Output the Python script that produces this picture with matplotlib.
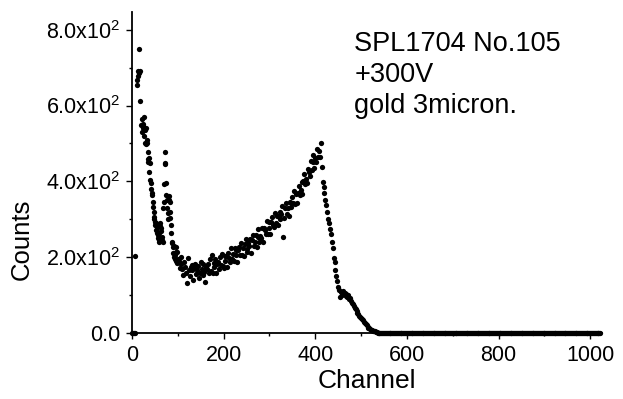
import numpy as np
import matplotlib.pyplot as plt
from matplotlib.ticker import MultipleLocator, FuncFormatter

# spectrum (channel, counts)
low_channels = [0, 2, 4, 6, 7, 11, 12, 13, 14, 15, 16, 17, 18,
                20, 21, 22, 23, 24, 25, 26, 27, 28, 29, 30, 31, 32, 33, 34, 35, 36, 37, 38, 39,
                40, 41, 42, 43, 44, 45, 46, 47, 48, 49, 50, 51, 52, 53, 54, 55, 56, 57, 58, 59,
                60, 61, 62, 63, 64, 65, 66, 67, 68, 69, 70, 71, 72, 73, 74, 75, 76, 77, 78, 79,
                80, 81, 82, 83, 84, 85, 86, 87, 88, 89, 90, 91, 92, 93, 94, 95, 96, 97, 98, 99, 100]
low_counts = [0, 0, 0, 0, 203, 655, 668, 678, 690, 748, 686, 692, 613,
              548, 530, 565, 545, 540, 552, 570, 520, 535, 500, 498, 540, 510, 500, 478, 460, 450, 462, 425, 449,
              404, 395, 380, 364, 370, 345, 332, 320, 306, 300, 293, 285, 290, 272, 280, 264, 250, 258, 240, 265,
              245, 290, 283, 276, 268, 254, 245, 240, 330, 345, 393, 477, 449, 446, 395, 364, 352, 330, 316, 300,
              350, 362, 346, 318, 303, 285, 264, 237, 240, 227, 211, 230, 200, 206, 195, 213, 190, 227, 214, 184, 196]

band_channels = list(range(102, 416, 2))
band_counts = [189, 171, 201, 183, 170, 154, 186, 174, 157, 132,
               198, 165, 151, 174, 165, 180, 140, 171, 183, 156,
               165, 177, 146, 159, 186, 169, 152, 181, 162, 135,
               175, 169, 181, 158, 195, 164, 206, 158, 185, 175,
               196, 158, 183, 188, 169, 201, 180, 209, 178, 172,
               203, 189, 203, 175, 211, 199, 188, 224, 196, 208,
               189, 225, 206, 219, 188, 218, 228, 207, 238, 206,
               223, 203, 234, 249, 221, 214, 237, 230, 249, 210,
               245, 258, 230, 239, 259, 227, 254, 273, 240, 257,
               250, 276, 241, 276, 271, 261, 296, 260, 278, 293,
               262, 292, 305, 286, 280, 316, 291, 309, 285, 309,
               320, 300, 314, 334, 254, 303, 329, 342, 315, 329,
               309, 346, 342, 332, 360, 343, 374, 340, 366, 342,
               370, 389, 363, 376, 397, 367, 402, 420, 393, 407,
               396, 433, 424, 413, 453, 431, 450, 470, 434, 462,
               451, 485, 463, 480, 464, 501, 438]

edge_channels = list(range(416, 540, 2))
edge_counts = [397, 385, 368, 352, 338, 318, 300, 290, 275, 262,
               240, 225, 198, 187, 166, 150, 138, 122, 113, 96,
               108, 100, 110, 102, 106, 97, 103, 95, 100, 90,
               93, 84, 80, 76, 72, 66, 62, 57, 54, 50,
               45, 42, 40, 36, 33, 30, 27, 24, 20, 17,
               14, 12, 10, 9, 8, 6, 5, 4, 3, 2, 1, 1]

tail_channels = list(range(540, 1024, 2))
tail_counts = [0] * len(tail_channels)

channels = low_channels + band_channels + edge_channels + tail_channels
counts = low_counts + band_counts + edge_counts + tail_counts

plt.rcParams['font.family'] = ['Liberation Sans', 'DejaVu Sans']
plt.rcParams['mathtext.default'] = 'regular'

fig = plt.figure(figsize=(6.23, 3.99), dpi=100)
ax = fig.add_axes([132 / 623, 66 / 399, 469.7 / 623, 321.5 / 399])

ax.plot(channels, counts, 'o', color='black', ms=3.8, mew=0, clip_on=False)

ax.set_xlim(0, 1025)
ax.set_ylim(0, 848)
ax.spines['top'].set_visible(False)
ax.spines['right'].set_visible(False)
for s in ['left', 'bottom']:
    ax.spines[s].set_linewidth(1.3)

ax.xaxis.set_major_locator(MultipleLocator(200))
ax.xaxis.set_minor_locator(MultipleLocator(100))
ax.yaxis.set_major_locator(MultipleLocator(200))
ax.yaxis.set_minor_locator(MultipleLocator(100))


def ylab(v, pos):
    if v == 0:
        return '0.0'
    return '%.1fx10$^2$' % (v / 100)


ax.yaxis.set_major_formatter(FuncFormatter(ylab))
ax.tick_params(which='major', direction='out', length=4.5, width=1.0, labelsize=15.5, pad=4)
ax.tick_params(which='minor', direction='out', length=2.5, width=1.0)

ax.set_xlabel('Channel', fontsize=19, labelpad=2)
ax.set_ylabel('Counts', fontsize=18.5)
ax.yaxis.set_label_coords(-0.209, 0.29)

ax.text(485, 745, 'SPL1704 No.105', fontsize=19.5, va='baseline')
ax.text(485, 663, '+300V', fontsize=19.5, va='baseline')
ax.text(485, 580, 'gold 3micron.', fontsize=19.5, va='baseline')

fig.savefig('out.png', dpi=100)
